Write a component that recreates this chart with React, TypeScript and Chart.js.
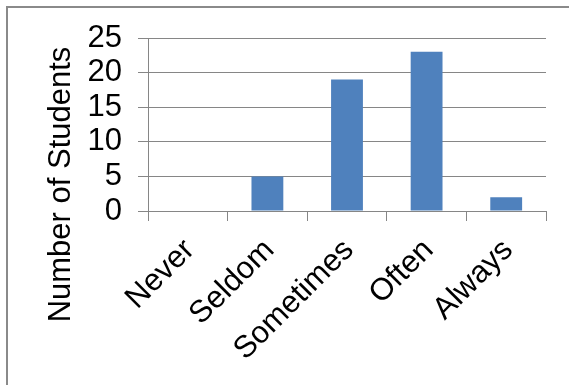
import React, { useEffect, useRef } from "react";
import { Chart, registerables } from "chart.js";

Chart.register(...registerables);

const categories = ["Never", "Seldom", "Sometimes", "Often", "Always"];
const students = [0, 5, 19, 23, 2];
const yTicks = [0, 5, 10, 15, 20, 25];
const yTitle = "Number of Students";

const FONT = "'Liberation Sans', Arial, sans-serif";
const FONT_SIZE = 31;
const GRID = "#868686";

// Draws the rotated y-axis title to the left of the tick labels.
const yTitlePlugin = {
  id: "yTitle",
  afterDraw(chart: any) {
    const { ctx, chartArea } = chart;
    ctx.save();
    ctx.translate(chartArea.left - 78, (chartArea.top + chartArea.bottom) / 2 + 60);
    ctx.rotate(-Math.PI / 2);
    ctx.font = `${FONT_SIZE}px ${FONT}`;
    ctx.fillStyle = "#000";
    ctx.textAlign = "center";
    ctx.textBaseline = "alphabetic";
    ctx.fillText(yTitle, 0, 0);
    ctx.restore();
  },
};

export default function App() {
  const canvasRef = useRef<HTMLCanvasElement>(null);

  useEffect(() => {
    const canvas = canvasRef.current;
    if (!canvas) return;
    const chart = new Chart(canvas, {
      type: "bar",
      data: {
        labels: categories,
        datasets: [
          {
            data: students,
            backgroundColor: "#4F81BD",
            borderWidth: 0,
            categoryPercentage: 1,
            barPercentage: 0.4,
          },
        ],
      },
      options: {
        animation: false,
        responsive: false,
        maintainAspectRatio: false,
        layout: { padding: { top: 38, right: 23, left: 0, bottom: 0 } },
        plugins: {
          legend: { display: false },
          tooltip: { enabled: false },
          title: { display: false },
        },
        scales: {
          x: {
            afterFit: (scale: any) => {
              scale.height = 174;
            },
            grid: {
              display: true,
              drawOnChartArea: false,
              drawTicks: true,
              tickLength: 10,
              color: GRID,
              offset: true,
            },
            border: { display: true, color: GRID, width: 1 },
            ticks: {
              color: "#000",
              font: { family: FONT, size: FONT_SIZE },
              minRotation: 45,
              maxRotation: 45,
              autoSkip: false,
              padding: 11,
              labelOffset: 2,
            },
          },
          y: {
            min: 0,
            max: 25,
            afterFit: (scale: any) => {
              scale.width = 148;
            },
            afterBuildTicks: (scale: any) => {
              scale.ticks = yTicks.map((v) => ({ value: v }));
            },
            grid: {
              color: GRID,
              drawTicks: true,
              tickLength: 10,
            },
            border: { display: true, color: GRID, width: 1 },
            ticks: {
              color: "#000",
              font: { family: FONT, size: FONT_SIZE },
              padding: 16,
              autoSkip: false,
            },
          },
        },
      },
      plugins: [yTitlePlugin],
    });
    return () => chart.destroy();
  }, []);

  return (
    <div
      style={{
        position: "fixed",
        left: 0,
        top: 0,
        width: 569,
        height: 385,
        background: "#fff",
        overflow: "hidden",
      }}
    >
      <canvas ref={canvasRef} width={569} height={385} style={{ display: "block" }} />
      <div
        style={{
          position: "absolute",
          left: 6,
          top: 6,
          width: 620,
          height: 420,
          borderLeft: "2px solid #8a8a8a",
          borderTop: "2px solid #8a8a8a",
        }}
      />
    </div>
  );
}
